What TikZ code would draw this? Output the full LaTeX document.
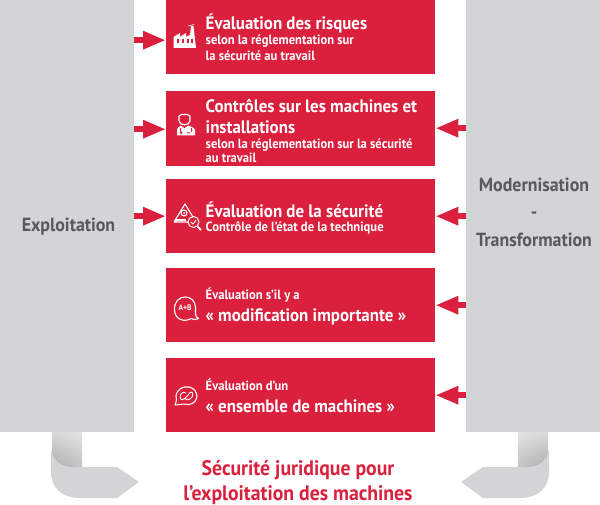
\documentclass[tikz,border=0pt]{standalone}
\usepackage{fontspec}
\setmainfont[FakeStretch=0.94]{PT Sans}
\usetikzlibrary{arrows.meta,calc,shadings}
\definecolor{rd}{HTML}{DA203D}
\definecolor{gy}{HTML}{D3D4D5}
\definecolor{gt}{HTML}{58595B}
\tikzset{
 redbox/.style={fill=rd,draw=none,minimum width=269pt,anchor=north west,inner sep=0pt},
 graybox/.style={fill=gy,draw=none,minimum width=134pt,minimum height=432pt,anchor=north west,inner sep=0pt},
 graylabel/.style={inner sep=0pt,align=center,text=gt,font=\fontsize{19}{27.5}\selectfont\bfseries},
 txt/.style={anchor=west,inner sep=0pt,text=white,align=left},
 ttl/.style={font=\fontsize{18}{21.5}\selectfont\bfseries},
 sub/.style={font=\fontsize{13.4}{15.5}\selectfont\bfseries},
 conn/.style={draw=rd,line width=6.5pt,-{Triangle[length=23pt,width=17pt]},shorten >=0pt},
 ic/.style={draw=white,line width=1.1pt,fill=none,line join=round},
}
\begin{document}
\begin{tikzpicture}[x=1pt,y=-1pt]
\useasboundingbox (0,0) rectangle (600,505);
% ribbons
\shade[upper left=gy!90!white,upper right=gy!65!white,lower left=gy!82!black,lower right=gy!92!black] (52,432) rectangle (82,467);
\shade[upper left=gy!65!white,upper right=gy!90!white,lower left=gy!92!black,lower right=gy!82!black] (518,432) rectangle (548,467);
\fill[gy] (51,449) .. controls (52,459) and (60,467) .. (72,467) -- (117,467) -- (139,482) -- (117,498) -- (80,498) .. controls (62,498) and (51,488) .. (51,472) -- cycle;
\fill[gy] (549,449) .. controls (548,459) and (540,467) .. (528,467) -- (483,467) -- (461,482) -- (483,498) -- (520,498) .. controls (538,498) and (549,488) .. (549,472) -- cycle;
% gray columns
\node[graybox] (expl) at (0,0) {};
\node[graybox] (mod) at (466,0) {};
\node[graylabel] (lexpl) at (68.5,227) {Exploitation};
\node[graylabel] (lmod) at (534,212) {Modernisation\\-\\Transformation};
% red boxes
\node[redbox,minimum height=74pt] (b1) at (166,0) {};
\node[redbox,minimum height=75pt] (b2) at (166,91) {};
\node[redbox,minimum height=74pt] (b3) at (166,179) {};
\node[redbox,minimum height=74pt] (b4) at (166,268) {};
\node[redbox,minimum height=74pt] (b5) at (166,358) {};
% texts
\node[txt,ttl] (t1) at (205.5,23) {Évaluation des risques};
\node[txt,sub] (s1) at (205.5,48) {selon la réglementation sur\\la sécurité au travail};
\node[txt,ttl] (t2) at (205.5,116.5) {Contrôles sur les machines et\\installations};
\node[txt,sub,font=\fontsize{13.4}{14.5}\selectfont\bfseries] (s2) at (205.5,151) {selon la réglementation sur la sécurité\\au travail};
\node[txt,ttl] (t3) at (205.5,209.5) {Évaluation de la sécurité};
\node[txt,sub] (s3) at (205.5,228) {Contrôle de l’état de la technique};
\node[txt,sub] (s4) at (205.5,295) {Évaluation s’il y a};
\node[txt,ttl] (t4) at (205.5,317) {« modification importante »};
\node[txt,sub] (s5) at (205.5,385) {Évaluation d’un};
\node[txt,ttl] (t5) at (205.5,406.5) {« ensemble de machines »};
\node[inner sep=0pt,text=rd,align=center,font=\fontsize{21}{25}\selectfont\bfseries] (res) at (298,482.5) {Sécurité juridique pour\\l’exploitation des machines};
% connectors
\draw[conn] ($(expl.east|-b1.center)+(0,3)$) -- ($(b1.west)+(0,3)$);
\draw[conn] ($(expl.east|-b2.center)+(0,0.5)$) -- ($(b2.west)+(0,0.5)$);
\draw[conn] (expl.east|-b3.center) -- (b3.west);
\draw[conn] ($(mod.west|-b2.center)+(0,-0.5)$) -- ($(b2.east)+(0,-0.5)$);
\draw[conn] (mod.west|-b3.center) -- (b3.east);
\draw[conn] (mod.west|-b4.center) -- (b4.east);
\draw[conn] (mod.west|-b5.center) -- (b5.east);
% icon 1 factory
\fill[white] (173.5,48) -- (173.5,37) -- (180,33) -- (180,37) -- (186,33) -- (186,37) -- (190,35) -- (191,26) -- (193.5,26) -- (196,48) -- cycle;
\foreach \x in {176.5,181.5,186.5,191} \fill[rd] (\x,39) rectangle +(2.2,4);
\draw[white,line width=.6pt] (188,26) -- (194,24.5);
% icon 2 person
\draw[ic] (179,116) -- (179,121) .. controls (180,126) and (189,126) .. (190,121) -- (190,116) -- (187.5,114.5) -- (181.5,114.5) -- cycle;
\fill[white] (177,135.5) -- (177,130) .. controls (177,128) and (179,126) .. (181,125.5) -- (184.5,128.5) -- (188,125.5) .. controls (190,126) and (195,128) .. (195,130) -- (195,135.5) -- cycle;
\fill[rd] (180,128) rectangle (181,132) (191,128) rectangle (192,132);
\fill[rd] (179.5,132.5) rectangle (182.5,133.5) (186.5,132.5) rectangle (190,133.5) (180.5,131.5) rectangle (181.5,134.5);
% icon 3 warning + magnifier
\draw[ic] (174,222) -- (185,204) -- (193,217) (174,222) -- (188,222);
\draw[ic] (176,222) -- (176,220) -- (186,220);
\draw[ic] (184,213) circle (3pt);
\fill[white] (184,213) circle (1pt);
\draw[ic,line width=1pt] (193.5,222) circle (5.5pt);
\draw[white,line width=2pt] (197.5,226.5) -- (201,230);
\draw[white,line width=.9pt] (191,222) -- (193,224) -- (196,220);
% icon 4 speech bubble
\draw[ic] (191,318.5) .. controls (186,322) and (175,321) .. (174.5,310) .. controls (174,302) and (179,297) .. (185,297) .. controls (191,297) and (195.5,301) .. (195.5,308) -- (195.5,314) .. controls (195.5,316) and (196.5,318) .. (198.5,318.5) .. controls (196,320) and (193,320) .. (191,318.5) -- cycle;
\node[inner sep=0pt,text=white,font=\fontsize{8}{9}\selectfont\bfseries] (ab) at (185,307.5) {A+B};
% icon 5 speech bubble with loops
\draw[ic] (175,405) .. controls (176,403) and (177,400) .. (176,396) .. controls (177,389) and (183,386) .. (189,387) .. controls (194,388) and (197,392) .. (197,397) .. controls (196,403) and (190,406) .. (184,404) .. controls (181,404) and (178,405) .. (175,405) -- cycle;
\draw[white,line width=.9pt] (186,393) .. controls (182,390) and (179,396) .. (180.5,399) .. controls (182,402) and (188,396) .. (190,392.5) .. controls (192,391) and (194,394) .. (192,397) .. controls (190,400) and (186,401) .. (185,398);
\end{tikzpicture}
\end{document}
